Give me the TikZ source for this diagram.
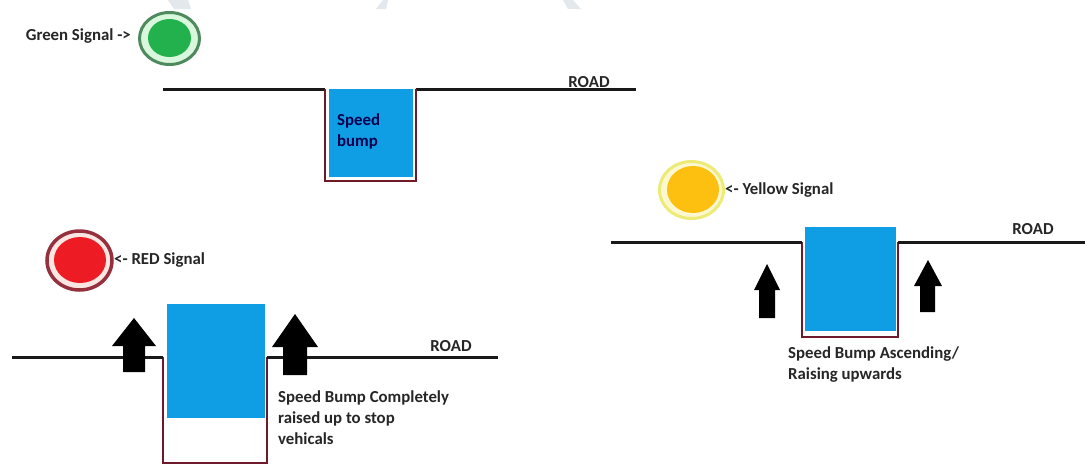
\documentclass[tikz,border=0pt]{standalone}
\usepackage{fontspec}
\setmainfont{Carlito}
\usepackage{xcolor}
\usepackage{tikz}
\usetikzlibrary{shapes.geometric, arrows.meta, positioning, calc}

\definecolor{bumpblue}{HTML}{0F9DE3}
\definecolor{pitred}{HTML}{6E1A2A}
\definecolor{greenlamp}{HTML}{22B14C}
\definecolor{greenring}{HTML}{4E8A5E}
\definecolor{greengap}{HTML}{D8F7DC}
\definecolor{redlamp}{HTML}{ED1C24}
\definecolor{redring}{HTML}{96303F}
\definecolor{redgap}{HTML}{FBE6E2}
\definecolor{yellowlamp}{HTML}{FDC010}
\definecolor{yellowring}{HTML}{EDEB78}
\definecolor{yellowgap}{HTML}{FDF8D0}
\definecolor{markgray}{HTML}{E3E8EC}

\tikzset{
  roadlabel/.style={font=\fontsize{16.8}{18}\selectfont\bfseries, text=black!85, inner sep=0pt},
  bumptext/.style={roadlabel, anchor=west, align=left},
  road/.style={line width=3pt, black!90},
  pit/.style={line width=2.2pt, pitred},
  bump/.style={fill=bumpblue, draw=none},
  lamp/.style={ellipse, minimum width=#1, inner sep=0pt, outer sep=0pt},
  liftarrow/.style={fill=black, draw=none},
}

\begin{document}
\begin{tikzpicture}[x=1pt, y=-1pt]
  \useasboundingbox[fill=white] (0,0) rectangle (1085,464);

  % Faint marks along the top edge
  \fill[markgray] (168,0) -- (188,0) -- (191,9) -- (174,9) -- cycle;
  \fill[markgray] (383,0) -- (388,0) -- (386,9) -- (376,9) -- cycle;
  \fill[markgray] (563,0) -- (573,0) -- (581,9) -- (568,9) -- cycle;

  % Green signal, bump at rest
  \node[lamp=60pt, minimum height=52pt, draw=greenring, line width=3pt, fill=greengap] (greenouter) at (169.5,38.5) {};
  \node[lamp=43pt, minimum height=38pt, fill=greenlamp] (greeninner) at (169.5,38) {};
  \node[roadlabel, anchor=east] (greenlabel) at (131,36.5) {Green Signal ->};

  \fill[bump] (329,89) rectangle (413,177);
  \draw[road] (163,89) -- (325,89);
  \draw[road] (416,89) -- (636,89);
  \draw[pit] (325,89) -- (325,181) -- (416,181) -- (416,89);
  \node[bumptext, text=black!30!blue!45!black] (greenbump) at (337,131) {Speed\\[3pt]bump};
  \node[roadlabel] (greenroad) at (589,82) {ROAD};

  % Yellow signal, bump going up
  \node[lamp=64pt, minimum height=57pt, draw=yellowring, line width=3pt, fill=yellowgap] (yellowouter) at (691.5,190) {};
  \node[lamp=52pt, minimum height=47pt, fill=yellowlamp] (yellowinner) at (693,189.5) {};
  \node[roadlabel, anchor=west] (yellowlabel) at (725,190) {<- Yellow Signal};

  \draw[pit] (802,242) -- (802,337) -- (898,337) -- (898,242);
  \fill[bump] (805,227) rectangle (896,331);
  \draw[road] (611,242) -- (802,242);
  \draw[road] (898,242) -- (1085,242);
  \fill[liftarrow] (767,264) -- (780,290) -- (775,290) -- (775,318) -- (759,318) -- (759,290) -- (754,290) -- cycle;
  \fill[liftarrow] (928,260) -- (942,286) -- (935,286) -- (935,312) -- (920,312) -- (920,286) -- (914,286) -- cycle;
  \node[roadlabel] (yellowroad) at (1033,229) {ROAD};
  \node[bumptext] (yellowbump) at (788,365) {Speed Bump Ascending/\\[3pt]Raising upwards};

  % Red signal, bump fully raised
  \node[lamp=65pt, minimum height=59pt, draw=redring, line width=3.5pt, fill=redgap] (redouter) at (79.5,260.5) {};
  \node[lamp=52pt, minimum height=46pt, fill=redlamp] (redinner) at (80,260) {};
  \node[roadlabel, anchor=west] (redlabel) at (114,260) {<- RED Signal};

  \draw[pit] (163,357) -- (163,463) -- (267,463) -- (267,357);
  \fill[bump] (167,304) rectangle (265,418);
  \draw[road] (12,357) -- (163,357);
  \draw[road] (267,357) -- (498,357);
  \fill[liftarrow] (134,318) -- (156,346) -- (145,346) -- (145,372) -- (123,372) -- (123,346) -- (112,346) -- cycle;
  \fill[liftarrow] (295,314) -- (318,347) -- (307,347) -- (307,375) -- (283,375) -- (283,347) -- (272,347) -- cycle;
  \node[roadlabel] (redroad) at (451,346) {ROAD};
  \node[bumptext] (redbump) at (278,418) {Speed Bump Completely\\[3pt]raised up to stop\\[3pt]vehicals};
\end{tikzpicture}
\end{document}
